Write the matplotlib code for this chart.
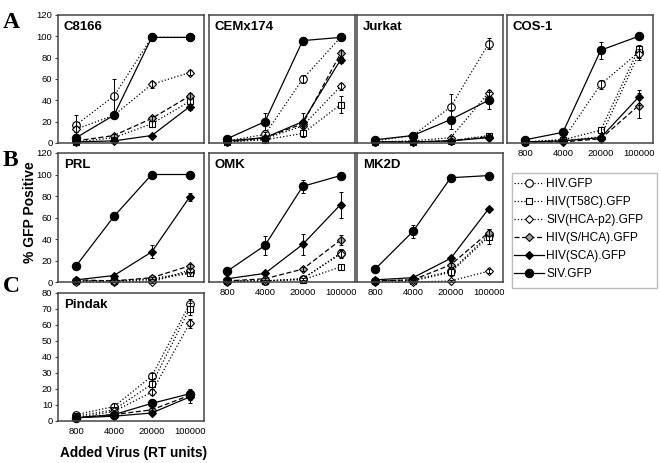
import matplotlib
matplotlib.use('Agg')
import matplotlib.pyplot as plt
from matplotlib.patches import Rectangle

# panels: A row (C8166, CEMx174, Jurkat, COS-1), B row (PRL, OMK, MK2D), C row (Pindak)
panels = ['C8166', 'CEMx174', 'Jurkat', 'COS-1', 'PRL', 'OMK', 'MK2D', 'Pindak']
doses = [800, 4000, 20000, 100000]
dose_labels = ['800', '4000', '20000', '100000']

# % GFP positive, one row per panel (same order as panels)
hiv_gfp = [[17, 44, 99, 99], [2, 8, 60, 99], [2, 7, 34, 93], [1, 3, 55, 85],
           [1, 1, 3, 9], [1, 1, 3, 27], [1, 2, 10, 44], [4, 9, 28, 73]]
hiv_gfp_err = [[9, 16, 3, 2], [1, 2, 4, 1], [1, 2, 12, 5], [1, 1, 4, 5],
               [1, 1, 1, 1], [1, 1, 1, 4], [1, 1, 1, 3], [1, 2, 2, 3]]
t58c = [[1, 5, 18, 39], [1, 3, 9, 36], [1, 1, 2, 7], [1, 3, 12, 88],
        [1, 1, 2, 8], [1, 1, 2, 14], [1, 1, 9, 42], [3, 7, 23, 70]]
t58c_err = [[1, 1, 3, 3], [1, 1, 3, 8], [1, 1, 1, 2], [1, 1, 3, 4],
            [1, 1, 1, 2], [1, 1, 1, 3], [1, 1, 3, 7], [1, 1, 3, 4]]
hca_p2 = [[13, 26, 55, 66], [1, 4, 16, 53], [1, 2, 5, 47], [1, 2, 6, 83],
          [0, 0, 0, 11], [0, 1, 3, 26], [0, 0, 1, 10], [2, 6, 18, 61]]
hca_p2_err = [[3, 2, 3, 2], [1, 1, 2, 3], [1, 1, 2, 3], [1, 1, 1, 5],
              [1, 1, 1, 2], [1, 1, 1, 4], [1, 1, 1, 2], [1, 1, 2, 3]]
s_hca = [[2, 7, 23, 44], [1, 5, 18, 84], [1, 1, 2, 6], [1, 1, 4, 35],
         [2, 1, 4, 15], [1, 3, 12, 39], [1, 2, 16, 46], [2, 4, 7, 16]]
s_hca_err = [[1, 1, 2, 3], [1, 1, 2, 3], [1, 1, 1, 1], [1, 1, 1, 12],
             [1, 1, 1, 2], [1, 1, 2, 5], [1, 1, 2, 3], [1, 1, 1, 3]]
sca = [[1, 2, 7, 34], [2, 5, 20, 78], [1, 1, 2, 5], [1, 2, 5, 43],
       [2, 6, 28, 79], [3, 8, 35, 72], [2, 4, 22, 68], [2, 3, 5, 15]]
sca_err = [[1, 1, 1, 3], [1, 1, 8, 3], [1, 1, 1, 1], [1, 1, 1, 7],
           [1, 1, 6, 4], [1, 2, 10, 12], [1, 1, 2, 2], [1, 1, 1, 4]]
siv_gfp = [[5, 26, 99, 99], [4, 20, 96, 99], [3, 7, 22, 40], [3, 10, 87, 100],
           [15, 61, 100, 100], [10, 34, 89, 99], [12, 47, 97, 99], [2, 4, 11, 17]]
siv_gfp_err = [[1, 2, 1, 1], [1, 8, 3, 1], [1, 3, 9, 8], [1, 2, 8, 1],
               [1, 3, 1, 1], [1, 9, 6, 1], [1, 6, 1, 1], [1, 1, 1, 3]]

series = [
    ('HIV.GFP', hiv_gfp, hiv_gfp_err, dict(ls=':', marker='o', mfc='white', ms=5.5)),
    ('HIV(T58C).GFP', t58c, t58c_err, dict(ls=':', marker='s', mfc='white', ms=5)),
    ('SIV(HCA-p2).GFP', hca_p2, hca_p2_err, dict(ls=':', marker='D', mfc='white', ms=4.5)),
    ('HIV(S/HCA).GFP', s_hca, s_hca_err, dict(ls=(0, (4, 2)), marker='D', mfc='#a0a0a0', ms=4.5)),
    ('HIV(SCA).GFP', sca, sca_err, dict(ls='-', marker='D', mfc='black', ms=4.5)),
    ('SIV.GFP', siv_gfp, siv_gfp_err, dict(ls='-', marker='o', mfc='black', ms=6)),
]

plt.rcParams['font.family'] = ['Liberation Sans', 'DejaVu Sans']

W, H = 660, 463
fig = plt.figure(figsize=(6.6, 4.63), dpi=100)

col_x = [58, 209, 357, 507]
row_y = [(15, 143), (153, 282), (293, 421)]
pos = [(0, 0), (0, 1), (0, 2), (0, 3), (1, 0), (1, 1), (1, 2), (2, 0)]
show_x = {'COS-1', 'OMK', 'MK2D', 'Pindak'}

handles = []
for i, name in enumerate(panels):
    r, c = pos[i]
    top, bot = row_y[r]
    ax = fig.add_axes([col_x[c] / W, 1 - bot / H, 146 / W, (bot - top) / H])
    for label, vals, errs, st in series:
        line, = ax.plot(doses, vals[i], color='black', lw=0.9, mec='black', mew=0.8,
                        clip_on=False, label=label, **st)
        ax.errorbar(doses, vals[i], yerr=errs[i], fmt='none', ecolor='black',
                    elinewidth=0.7, capsize=1.5, capthick=0.7, clip_on=False)
        if i == 0:
            handles.append(line)
    ax.set_xscale('log')
    ax.set_xlim(370, 185000)
    ax.minorticks_off()
    if r == 2:
        ax.set_ylim(0, 80)
        ax.set_yticks(range(0, 81, 10))
    else:
        ax.set_ylim(0, 120)
        ax.set_yticks(range(0, 121, 20))
    ax.set_xticks(doses)
    if name in show_x:
        ax.set_xticklabels(dose_labels, fontsize=6.8)
        ax.tick_params(axis='x', length=0, pad=4)
    else:
        ax.tick_params(axis='x', length=0, labelbottom=False)
    if c == 0:
        ax.tick_params(axis='y', labelsize=6.8, length=2, pad=2, color='#444')
    else:
        ax.tick_params(axis='y', length=0, labelleft=False)
    for sp in ax.spines.values():
        sp.set_color('#444')
        sp.set_linewidth(1.1)
    ax.text(0.04, 0.95, name, transform=ax.transAxes, fontsize=9.5,
            fontweight='bold', va='top', ha='left')

# legend box drawn separately so its padding matches the original
fig.patches.append(Rectangle((512 / W, 1 - 288 / H), 145 / W, 115 / H,
                             transform=fig.transFigure, fill=False,
                             edgecolor='#bbbbbb', lw=1.0))
fig.legend(handles, [h.get_label() for h in handles], loc='upper left',
           bbox_to_anchor=(513 / W, 1 - 177 / H), frameon=False,
           fontsize=8.6, handlelength=2.5, handletextpad=0.2,
           borderpad=0.1, labelspacing=0.5, borderaxespad=0)

for letter, y in [('A', 22), ('B', 160), ('C', 287)]:
    fig.text(3 / W, 1 - y / H, letter, fontsize=17, fontweight='bold',
             family='Liberation Serif', va='center', ha='left')

fig.text(30 / W, 1 - 212 / H, '% GFP Positive', rotation=90, fontsize=10,
         fontweight='bold', va='center', ha='center')
fig.text(134 / W, 1 - 453 / H, 'Added Virus (RT units)', fontsize=9.8,
         fontweight='bold', va='center', ha='center')

plt.savefig('out.png', dpi=100)
plt.close()
